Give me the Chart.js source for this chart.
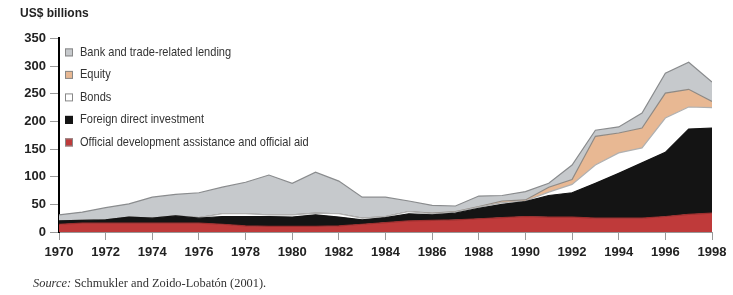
<html>
<head>
    <meta charset="UTF-8">
    <title>Capital flows to developing countries</title>
    <style>
        body { margin: 0; background: #fff; }
        #wrap { position: relative; width: 733px; height: 295px; }
        #source { position: absolute; left: 33px; top: 276px; font: 12.4px "Liberation Serif", "DejaVu Serif", serif; color: #333; }
        #source i { font-style: italic; }
    </style>
</head>
<body>
    <div id="wrap">
        <canvas id="flowChart" width="733" height="295"></canvas>
        <div id="source"><i>Source:</i> Schmukler and Zoido-Lobatón (2001).</div>
    </div>
    <script src="https://cdn.jsdelivr.net/npm/chart.js"></script>
    <script>
        // years on the x axis
        const years = [1970, 1971, 1972, 1973, 1974, 1975, 1976, 1977, 1978, 1979,
                       1980, 1981, 1982, 1983, 1984, 1985, 1986, 1987, 1988, 1989,
                       1990, 1991, 1992, 1993, 1994, 1995, 1996, 1997, 1998];

        // US$ billions, each series on its own (stacked in the chart)
        const oda    = [14, 16, 16, 16, 16, 16, 16, 14, 11, 10, 10, 10, 11, 14, 17, 20, 21, 22, 24, 26, 28, 27, 27, 25, 25, 25, 28, 32, 34];
        const fdi    = [6, 5, 6, 11, 9, 13, 9, 14, 17, 18, 17, 21, 16, 8, 9, 13, 10, 12, 19, 24, 27, 39, 44, 63, 81, 100, 116, 154, 154];
        const bonds  = [0, 0, 0, 0, 0, 0, 1, 5, 5, 3, 4, 3, 6, 3, 2, 4, 2, 2, 2, 3, 1, 6, 15, 33, 37, 27, 62, 40, 37];
        const equity = [0, 0, 0, 0, 0, 0, 0, 0, 0, 0, 0, 0, 0, 0, 0, 0, 1, 1, 1, 3, 2, 9, 9, 52, 36, 36, 45, 32, 11];
        const bank   = [11, 15, 22, 24, 38, 39, 45, 48, 57, 72, 57, 74, 59, 38, 35, 19, 14, 10, 19, 10, 15, 7, 26, 11, 11, 27, 36, 49, 35];

        const yTicks = [0, 50, 100, 150, 200, 250, 300, 350];

        const pts = arr => arr.map((v, i) => ({ x: years[i], y: v }));

        const datasets = [
            { label: 'Official development assistance and official aid', data: pts(oda),
              backgroundColor: '#bf3a3a', borderColor: '#9c2e2e', fill: 'origin' },
            { label: 'Foreign direct investment', data: pts(fdi),
              backgroundColor: '#141414', borderColor: '#141414', fill: '-1' },
            { label: 'Bonds', data: pts(bonds),
              backgroundColor: '#ffffff', borderColor: '#b0b0b0', fill: '-1' },
            { label: 'Equity', data: pts(equity),
              backgroundColor: '#e8b893', borderColor: '#8e8984', fill: '-1' },
            { label: 'Bank and trade-related lending', data: pts(bank),
              backgroundColor: '#c6c9cc', borderColor: '#8a8c8e', fill: '-1' }
        ];
        datasets.forEach(d => { d.borderWidth = 1.2; d.pointRadius = 0; d.tension = 0; });

        // legend drawn inside the plot area, top-left (text squeezed to a condensed look)
        const insideLegend = {
            id: 'insideLegend',
            afterDatasetsDraw(chart) {
                const ctx = chart.ctx;
                const area = chart.chartArea;
                const items = chart.data.datasets.slice().reverse();
                ctx.save();
                ctx.font = '13px "Liberation Sans", Arial, sans-serif';
                ctx.textBaseline = 'middle';
                items.forEach((d, i) => {
                    const y = area.top + 14 + i * 22.5;
                    const x = area.left + 6;
                    ctx.fillStyle = d.backgroundColor;
                    ctx.fillRect(x, y - 4, 8, 8);
                    ctx.strokeStyle = d.label === 'Foreign direct investment' ? '#141414' : '#888';
                    ctx.lineWidth = 1;
                    ctx.strokeRect(x + 0.5, y - 3.5, 7, 7);
                    ctx.save();
                    ctx.translate(x + 15, y);
                    ctx.scale(0.85, 1);
                    ctx.fillStyle = '#333';
                    ctx.fillText(d.label, 0, 0);
                    ctx.restore();
                });
                ctx.restore();
            }
        };

        const ctx = document.getElementById('flowChart').getContext('2d');
        const flowChart = new Chart(ctx, {
            type: 'line',
            data: { datasets: datasets },
            options: {
                responsive: false,
                animation: false,
                layout: { padding: { left: 20, right: 21, top: 0, bottom: 33 } },
                plugins: {
                    legend: { display: false },
                    tooltip: { enabled: false },
                    title: {
                        display: true,
                        text: 'US$ billions',
                        align: 'start',
                        color: '#222',
                        font: { family: 'Liberation Sans, Arial, sans-serif', size: 12, weight: 'bold' },
                        padding: { top: 6, bottom: 18 }
                    }
                },
                scales: {
                    x: {
                        type: 'linear',
                        min: years[0],
                        max: years[years.length - 1],
                        afterFit: s => { s.height = 30; },
                        grid: { drawOnChartArea: false, tickLength: 8, tickColor: '#999' },
                        border: { color: '#999', width: 1 },
                        ticks: {
                            stepSize: 2,
                            padding: 5,
                            color: '#222',
                            font: { family: 'Liberation Sans, Arial, sans-serif', size: 13, weight: 'bold' },
                            callback: v => String(v),
                            maxRotation: 0,
                            autoSkip: false
                        }
                    },
                    y: {
                        stacked: true,
                        min: 0,
                        max: 350,
                        afterFit: s => { s.width = 39; },
                        afterBuildTicks: s => { s.ticks = yTicks.map(v => ({ value: v })); },
                        grid: { drawOnChartArea: false, tickLength: 9, tickColor: '#999' },
                        border: { color: '#000', width: 2 },
                        ticks: {
                            padding: 4,
                            color: '#222',
                            font: { family: 'Liberation Sans, Arial, sans-serif', size: 13, weight: 'bold' }
                        }
                    }
                }
            },
            plugins: [insideLegend]
        });
    </script>
</body>
</html>
